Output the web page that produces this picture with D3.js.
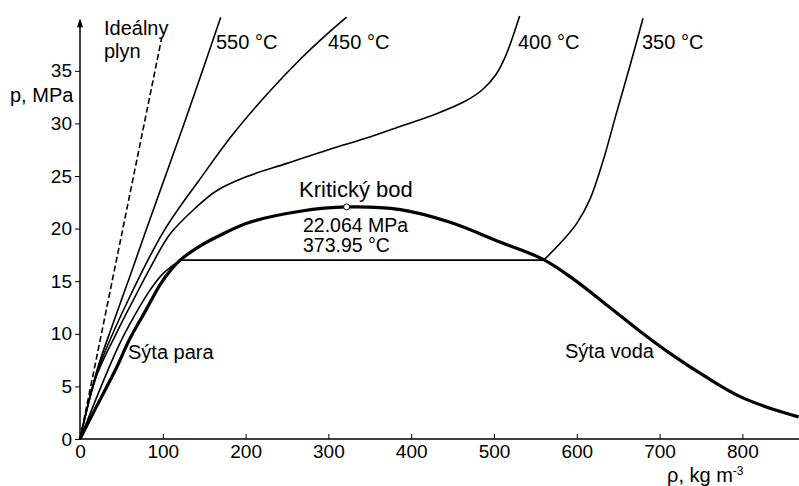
<!DOCTYPE html>
<html>
<head>
<meta charset="utf-8">
<script src="https://cdn.jsdelivr.net/npm/d3@7"></script>
<style>
    body { margin: 0; background: #fff; }
    svg { display: block; font-family: "Liberation Sans", Arial, sans-serif; }
    .tick text { font-size: 19px; fill: #000; }
    .tick line { stroke: #000; stroke-width: 1; }
    .lbl { font-size: 20px; fill: #000; }
</style>
</head>
<body>
<script>
// Anonymous function to keep all variables local
(function(){

    //axis ticks
    var xTicks = [0, 100, 200, 300, 400, 500, 600, 700, 800];
    var yTicks = [0, 5, 10, 15, 20, 25, 30, 35];

    //series, pairs of [density kg/m3, pressure MPa]
    var idealGas = [[0,0],[98.6,38.1]];
    var iso550 = [[0,0],[20,6.4],[40,11.0],[60,15.4],[80,19.9],[100,24.3],[120,28.7],[140,33.2],[170,40.1]];
    var iso450 = [[0,0],[20,6.2],[40,10.1],[60,13.5],[80,16.7],[100,19.6],[120,22.0],[143,24.5],[183,28.8],
        [225,32.7],[266,36.1],[300,38.6],[322,40.1]];
    var iso400 = [[0,0],[20,6.0],[43,9.9],[65,13.3],[85,16.3],[109,19.5],[140,22.0],[165,23.6],[200,24.9],
        [250,26.2],[300,27.5],[350,28.7],[390,29.8],[430,30.9],[465,32.1],[486,33.2],[502,34.6],
        [514,36.4],[523,38.3],[531,40.2]];
    var iso350Gas = [[0,0],[34,6.6],[50,9.4],[70,12.3],[85,14.2],[100,15.7],[121,17.0]];
    var iso350Liquid = [[560,17.0],[580,18.6],[600,20.5],[616,22.8],[632,26.5],[648,31],[664,35.4],[680,40]];
    var saturation = [[0,0],[20,3.1],[43,6.6],[60,9.5],[80,12.3],[97,14.7],[110,16.1],[121,17.0],[140,18.1],
        [165,19.2],[205,20.6],[266,21.65],[322,22.06],[387,21.8],[447,20.6],[508,18.7],[560,17.05],
        [596,15.2],[637,12.7],[677,10.2],[717,7.9],[758,5.8],[798,4.0],[838,2.8],[868,2.1]];
    var criticalPoint = [322, 22.064];

    //frame
    var width = 799,
        height = 486;

    var x = d3.scaleLinear()
        .domain([0, 868.4])
        .range([80, 799]);

    var y = d3.scaleLinear()
        .domain([0, 40])
        .range([439, 18.2]);

    var svg = d3.select("body")
        .append("svg")
        .attr("width", width)
        .attr("height", height);

    // Axes, ticks only; the axis lines are drawn by hand below
    var xAxis = svg.append("g")
        .attr("transform", "translate(0," + y(0) + ")")
        .call(d3.axisBottom(x).tickValues(xTicks).tickSizeInner(-5).tickSizeOuter(0).tickPadding(6));
    xAxis.select(".domain").remove();

    var yAxis = svg.append("g")
        .attr("transform", "translate(" + x(0) + ",0)")
        .call(d3.axisLeft(y).tickValues(yTicks).tickSizeInner(5).tickSizeOuter(0).tickPadding(3));
    yAxis.select(".domain").remove();

    svg.append("line")
        .attr("x1", x(0)).attr("x2", width)
        .attr("y1", y(0)).attr("y2", y(0))
        .style("stroke", "#000").style("stroke-width", 1.5);

    svg.append("line")
        .attr("x1", x(0)).attr("x2", x(0))
        .attr("y1", y(0)).attr("y2", y(40) + 4)
        .style("stroke", "#000").style("stroke-width", 1.5);

    //arrow head on the pressure axis
    svg.append("path")
        .attr("d", "M" + x(0) + "," + y(40) + "L" + (x(0) - 3) + "," + (y(40) + 9) +
            "L" + (x(0) + 3) + "," + (y(40) + 9) + "Z")
        .style("fill", "#000");

    var line = d3.line()
        .x(function(d){ return x(d[0]); })
        .y(function(d){ return y(d[1]); })
        .curve(d3.curveCatmullRom.alpha(0.5));

    function drawLine(data, w, dash){
        svg.append("path")
            .datum(data)
            .attr("d", line)
            .style("fill", "none")
            .style("stroke", "#000")
            .style("stroke-width", w)
            .style("stroke-dasharray", dash || null)
            .style("stroke-linejoin", "round");
    };

    drawLine(idealGas, 1.6, "6,3");
    drawLine(iso550, 1.6);
    drawLine(iso450, 1.6);
    drawLine(iso400, 1.6);
    drawLine(iso350Gas, 1.6);
    // tie line of the 350 °C isotherm
    drawLine([iso350Gas[iso350Gas.length - 1], iso350Liquid[0]], 1.6);
    drawLine(iso350Liquid, 1.6);
    drawLine(saturation, 3.2);

    svg.append("circle")
        .attr("cx", x(criticalPoint[0]))
        .attr("cy", y(criticalPoint[1]))
        .attr("r", 3)
        .style("fill", "#fff")
        .style("stroke", "#000")
        .style("stroke-width", 1);

    //labels
    var labels = [
        ["Ideálny", 104, 35, 20],
        ["plyn", 104, 58, 20],
        ["550 °C", 216, 49, 20],
        ["450 °C", 328, 49, 20],
        ["400 °C", 518, 49, 20],
        ["350 °C", 642, 49, 20],
        ["22.064 MPa", 303, 232, 19.5],
        ["373.95 °C", 303, 252, 19.5],
        ["Sýta para", 128, 359, 20],
        ["Sýta voda", 565, 358, 20],
        ["p, MPa", 10, 102, 20],
        ["Kritický bod", 299, 197, 22]
    ];

    svg.selectAll(".lbl")
        .data(labels)
        .enter()
        .append("text")
        .attr("class", "lbl")
        .attr("x", function(d){ return d[1]; })
        .attr("y", function(d){ return d[2]; })
        .style("font-size", function(d){ return d[3] + "px"; })
        .text(function(d){ return d[0]; });

    var xLabel = svg.append("text")
        .attr("class", "lbl")
        .attr("x", 667)
        .attr("y", 482);
    xLabel.append("tspan").text("ρ, kg m");
    xLabel.append("tspan")
        .attr("dy", -7)
        .style("font-size", "12px")
        .text("-3");

}) ();
</script>
</body>
</html>
